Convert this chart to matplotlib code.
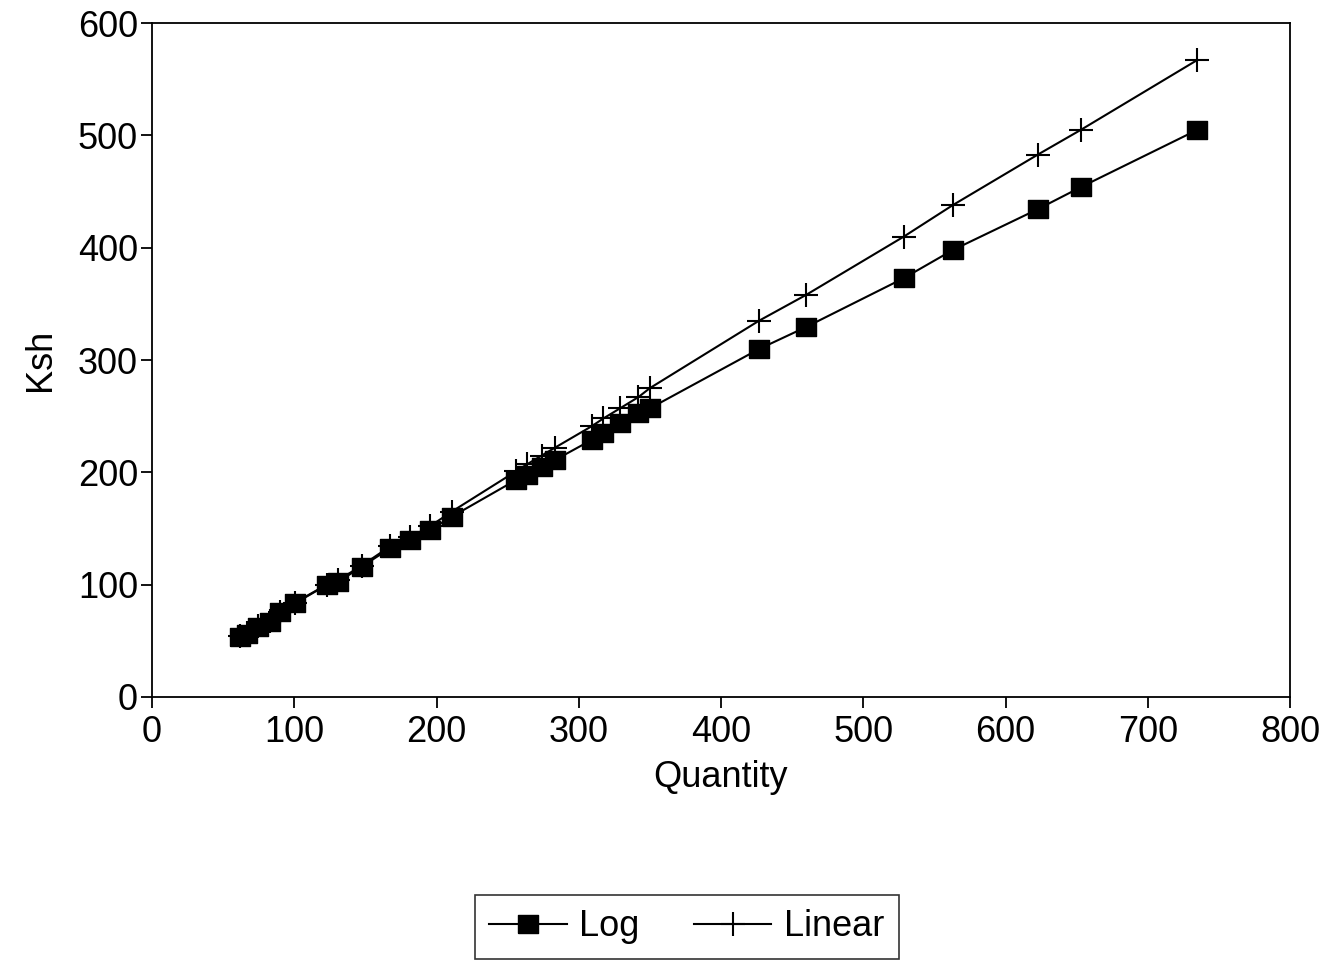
import numpy as np
import matplotlib.pyplot as plt

plt.rcParams['font.family'] = ['Liberation Sans', 'DejaVu Sans']

quantity = [61.9, 67, 74.7, 83, 90, 100.5, 122.8, 131, 147.4, 167.3, 181.4, 195.4, 210.7,
            255.9, 263.4, 274, 283.3, 309, 317.3, 329, 341.9, 350,
            426.7, 459.8, 528.6, 563, 622.8, 653, 734.6]
ksh_log = [53.7, 56, 62.6, 67, 76, 83.4, 99.7, 102.6, 116, 132.4, 139.8, 148.7, 160.5,
           193.2, 197.6, 205, 211, 228.8, 234.8, 243.6, 252.5, 257,
           309.8, 329.4, 373, 398, 434.4, 454, 504.8]
ksh_linear = [54, 57, 63, 68, 76, 84, 100, 104, 117, 134, 142, 152, 165,
              201, 207, 215, 222, 241, 248, 257, 267, 275,
              335, 358, 410, 438, 483, 505, 567]

# slightly wide filled rectangle, like the scanned original
box = [(-1.2, -1), (1.2, -1), (1.2, 1), (-1.2, 1), (-1.2, -1)]

fig = plt.figure(figsize=(13.31, 9.64), dpi=100)
ax = fig.add_axes([0.1142, 0.277, 0.855, 0.699])

ax.plot(quantity, ksh_log, color='black', lw=1.5, marker=box, ms=15,
        mfc='black', mec='black', label='Log')
ax.plot(quantity, ksh_linear, color='black', lw=1.5, marker='+', ms=17,
        mew=1.5, label='Linear')

ax.set_xlim(0, 800)
ax.set_ylim(0, 600)
ax.set_xticks(np.arange(0, 801, 100))
ax.set_yticks(np.arange(0, 601, 100))
ax.tick_params(direction='out', length=8, width=1.3, labelsize=26, pad=2)
ax.tick_params(axis='x', pad=5)
for s in ax.spines.values():
    s.set_linewidth(1.3)
ax.set_xlabel('Quantity', fontsize=26, labelpad=7)
ax.set_ylabel('Ksh', fontsize=26, labelpad=14)

leg = fig.legend(loc='center', bbox_to_anchor=(0.516, 0.0384), ncol=2, fontsize=26,
                 frameon=True, fancybox=False, edgecolor='black', handlelength=2.15,
                 columnspacing=1.5, borderpad=0.4, borderaxespad=0, handletextpad=0.35)
leg.get_frame().set_linewidth(1.2)

fig.savefig('out.png', dpi=100)
